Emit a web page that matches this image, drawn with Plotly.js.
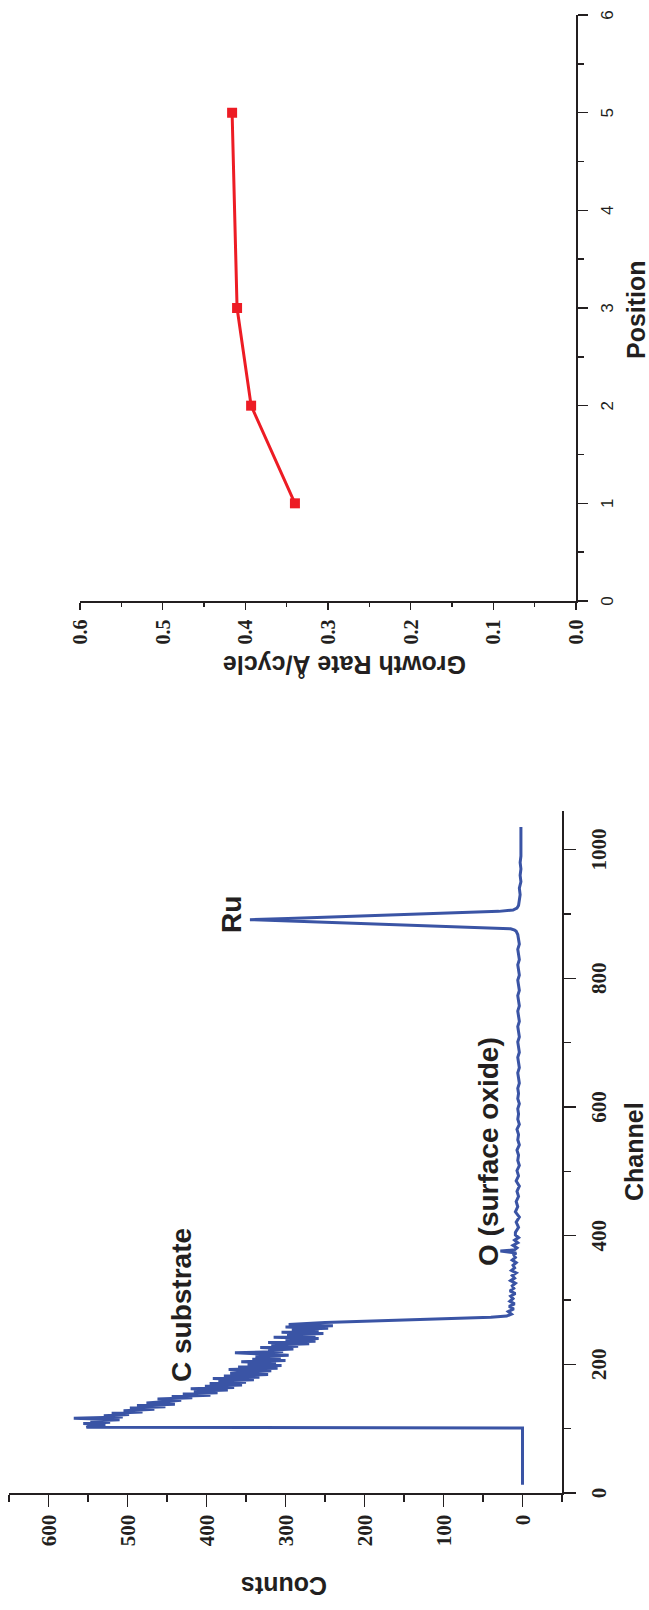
<!DOCTYPE html>
<html>
<head>
<meta charset="utf-8">
<script src="https://cdn.plot.ly/plotly-3.0.1.min.js"></script>
<style>
  html, body { margin: 0; padding: 0; width: 649px; height: 1610px; overflow: hidden; background: #fff; }
  /* the figure is laid out landscape and turned a quarter turn counter-clockwise */
  #wrap {
    position: absolute; left: 0; top: 0;
    width: 1610px; height: 649px;
    transform-origin: 0 0;
    transform: translate(0px, 1610px) rotate(-90deg);
  }
</style>
</head>
<body>
<div id="wrap"></div>
<script>
// RBS spectrum: channel number and counts
const channel = [
  13, 30, 50, 70, 90, 101,
  102, 104, 106, 108, 110, 112, 114, 116, 118, 120,
  122, 124, 126, 128, 130, 132, 134, 136, 138, 140,
  142, 144, 146, 148, 150, 152, 154, 156, 158, 160,
  162, 164, 166, 168, 170, 172, 174, 176, 178, 180,
  182, 184, 186, 188, 190, 192, 194, 196, 198, 200,
  202, 204, 206, 208, 210, 212, 214, 216, 218, 220,
  222, 224, 226, 228, 230, 232, 234, 236, 238, 240,
  242, 244, 246, 248, 250, 252, 254, 256, 258, 260,
  262, 265, 268, 271, 273, 275,
  278, 282, 286, 290, 294, 298, 302, 306, 310, 314,
  318, 322, 326, 330, 334, 338, 342, 346, 350, 354,
  358, 362, 366, 370, 373, 376, 378, 381, 385, 389,
  393, 397, 401,
  405, 413, 421, 429, 437, 445, 453, 461, 469, 477,
  485, 493, 501, 509, 517, 525, 533, 541, 549, 557,
  565, 573, 581, 589, 597, 605, 613, 621, 629, 637,
  645, 653, 661, 669, 677, 685, 693, 701, 709, 717,
  725, 733, 741, 749, 757, 765, 773, 781, 789, 797,
  805, 813, 821, 829, 837, 845, 853, 861, 868, 873,
  875, 877, 880, 883, 886, 889, 891, 893, 896, 899,
  902, 904, 906, 909, 913,
  920, 930, 940, 950, 960, 970, 980, 990, 1000, 1010,
  1020, 1035
];
const counts = [
  0, 0, 0, 0, 0, 0,
  552, 548, 528, 556, 522, 547, 510, 568, 506, 530,
  498, 520, 481, 505, 466, 497, 452, 488, 440, 476,
  455, 432, 462, 418, 444, 395, 430, 386, 416, 373,
  420, 365, 402, 355, 396, 350, 385, 340, 392, 333,
  378, 322, 370, 350, 318, 372, 310, 360, 305, 348,
  312, 356, 300, 342, 306, 338, 296, 330, 364, 303,
  322, 290, 332, 284, 318, 270, 322, 262, 300, 258,
  315, 262, 298, 252, 305, 258, 292, 246, 300, 240,
  296, 250, 170, 80, 40, 20,
  14, 18, 11, 17, 10, 16, 12, 15, 9, 16,
  11, 13, 9, 15, 10, 13, 8, 14, 10, 12,
  8, 13, 9, 11, 8, 28, 10, 7, 12, 6,
  10, 5, 9,
  9, 5, 8, 4, 9, 6, 8, 5, 7, 4,
  8, 5, 7, 4, 6, 5, 7, 4, 6, 5,
  7, 4, 6, 5, 6, 4, 6, 5, 6, 4,
  5, 6, 4, 5, 6, 4, 5, 6, 4, 5,
  6, 4, 5, 6, 4, 5, 6, 4, 5, 6,
  4, 5, 6, 4, 5, 6, 4, 5, 6, 8,
  10, 15, 85, 158, 230, 300, 345, 297, 225, 152,
  80, 30, 12, 7, 5,
  4, 3, 4, 2, 3, 2, 3, 2, 2, 2,
  2, 2
];

// growth rate per deposition position
const position = [1, 2, 3, 5];
const growthRate = [0.34, 0.393, 0.41, 0.416];

const W = 1610, H = 649;
const ink = '#231f20';
const px = v => v / W;          // horizontal pixel -> paper fraction
const py = v => 1 - v / H;      // vertical pixel -> paper fraction

const serifFamily = '"Liberation Serif", "Times New Roman", Times, serif';
const sansFamily = '"Liberation Sans", Arial, Helvetica, sans-serif';
const tickSerif = { family: serifFamily, size: 21, weight: 'bold', color: ink };
const titleFont = { family: sansFamily, size: 25, weight: 'bold', color: ink };
const labelFont = { family: sansFamily, size: 28, weight: 'bold', color: ink };

function axisBase(extra) {
  return Object.assign({
    showline: true, linecolor: ink, linewidth: 1.5,
    ticks: 'outside', tickcolor: ink, tickwidth: 1.5,
    showgrid: false, zeroline: false, fixedrange: true
  }, extra);
}

const traces = [
  {
    x: channel, y: counts, type: 'scatter', mode: 'lines',
    line: { color: '#3a54a5', width: 3 },
    xaxis: 'x', yaxis: 'y', hoverinfo: 'skip'
  },
  {
    x: position, y: growthRate, type: 'scatter', mode: 'lines+markers',
    line: { color: '#ed1c24', width: 3 },
    marker: { symbol: 'square', size: 10, color: '#ed1c24' },
    xaxis: 'x2', yaxis: 'y2', hoverinfo: 'skip'
  }
];

const layout = {
  width: W, height: H,
  margin: { l: 0, r: 0, t: 0, b: 0 },
  paper_bgcolor: '#fff', plot_bgcolor: 'rgba(0,0,0,0)',
  showlegend: false,
  xaxis: axisBase({
    domain: [px(117), px(799)], range: [0, 1060], anchor: 'y',
    tick0: 0, dtick: 200, ticklen: 12, tickfont: tickSerif, ticklabelstandoff: 5,
    minor: { dtick: 100, ticks: 'outside', ticklen: 7, tickwidth: 1.5, tickcolor: ink }
  }),
  yaxis: axisBase({
    domain: [py(562), py(9)], range: [-50, 650], anchor: 'x',
    tick0: 0, dtick: 100, ticklen: 12, tickfont: tickSerif, ticklabelstandoff: 4,
    minor: { dtick: 50, ticks: 'outside', ticklen: 7, tickwidth: 1.5, tickcolor: ink }
  }),
  xaxis2: axisBase({
    domain: [px(1009), px(1595)], range: [0, 6], anchor: 'y2',
    tick0: 0, dtick: 1, ticklen: 10,
    tickfont: { family: sansFamily, size: 17, color: ink },
    ticklabelstandoff: 5,
    minor: { dtick: 0.5, ticks: 'outside', ticklen: 6, tickwidth: 1.5, tickcolor: ink }
  }),
  yaxis2: axisBase({
    domain: [py(576), py(80)], range: [0, 0.6], anchor: 'x2',
    tick0: 0, dtick: 0.1, tickformat: '.1f', ticklen: 7,
    tickfont: Object.assign({}, tickSerif, { size: 20 }), ticklabelstandoff: 6,
    minor: { dtick: 0.05, ticks: 'outside', ticklen: 4, tickwidth: 1.5, tickcolor: ink }
  }),
  annotations: [
    { text: 'Channel', x: px(458), y: py(634), xref: 'paper', yref: 'paper', showarrow: false, xanchor: 'center', yanchor: 'middle', font: titleFont },
    { text: 'Counts', x: px(24), y: py(284), xref: 'paper', yref: 'paper', showarrow: false, xanchor: 'center', yanchor: 'middle', textangle: -90, font: titleFont },
    { text: 'Position', x: px(1300), y: py(636), xref: 'paper', yref: 'paper', showarrow: false, xanchor: 'center', yanchor: 'middle', font: titleFont },
    { text: 'Growth Rate Å/cycle', x: px(945), y: py(345), xref: 'paper', yref: 'paper', showarrow: false, xanchor: 'center', yanchor: 'middle', textangle: -90, font: titleFont },
    { text: 'C substrate', x: px(305), y: py(182), xref: 'paper', yref: 'paper', showarrow: false, xanchor: 'center', yanchor: 'middle', font: labelFont },
    { text: 'O (surface oxide)', x: px(458), y: py(488), xref: 'paper', yref: 'paper', showarrow: false, xanchor: 'center', yanchor: 'middle', font: labelFont },
    { text: 'Ru', x: px(695), y: py(232), xref: 'paper', yref: 'paper', showarrow: false, xanchor: 'center', yanchor: 'middle', font: labelFont }
  ]
};

Plotly.newPlot('wrap', traces, layout, { staticPlot: true, displayModeBar: false });
</script>
</body>
</html>
